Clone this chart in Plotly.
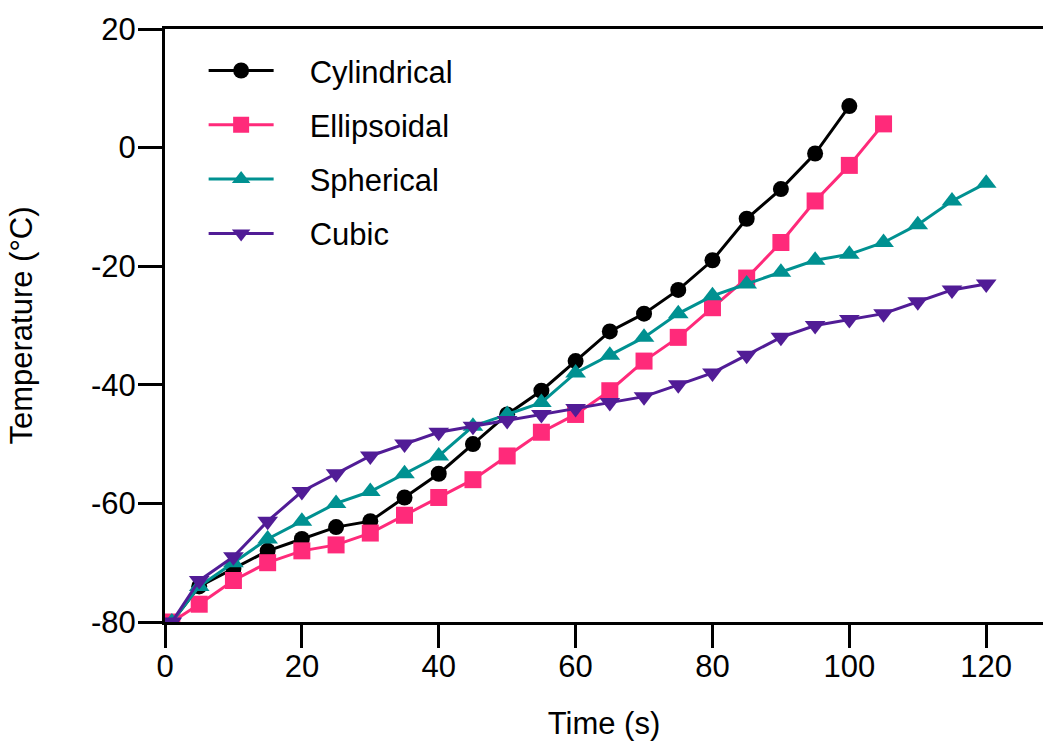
import plotly.graph_objects as go

time_cyl = [1, 5, 10, 15, 20, 25, 30, 35, 40, 45, 50, 55, 60, 65, 70, 75, 80, 85, 90, 95, 100]
temp_cyl = [-80, -74, -71, -68, -66, -64, -63, -59, -55, -50, -45, -41, -36, -31, -28, -24, -19, -12, -7, -1, 7]

time_ell = [1, 5, 10, 15, 20, 25, 30, 35, 40, 45, 50, 55, 60, 65, 70, 75, 80, 85, 90, 95, 100, 105]
temp_ell = [-80, -77, -73, -70, -68, -67, -65, -62, -59, -56, -52, -48, -45, -41, -36, -32, -27, -22, -16, -9, -3, 4]

time_sph = [1, 5, 10, 15, 20, 25, 30, 35, 40, 45, 50, 55, 60, 65, 70, 75, 80, 85, 90, 95, 100, 105, 110, 115, 120]
temp_sph = [-80, -74, -70, -66, -63, -60, -58, -55, -52, -47, -45, -43, -38, -35, -32, -28, -25, -23, -21, -19, -18, -16, -13, -9, -6]

time_cub = [1, 5, 10, 15, 20, 25, 30, 35, 40, 45, 50, 55, 60, 65, 70, 75, 80, 85, 90, 95, 100, 105, 110, 115, 120]
temp_cub = [-80, -73, -69, -63, -58, -55, -52, -50, -48, -47, -46, -45, -44, -43, -42, -40, -38, -35, -32, -30, -29, -28, -26, -24, -23]

x_ticks = [0, 20, 40, 60, 80, 100, 120]
x_tick_labels = ["0", "20", "40", "60", "80", "100", "120"]
y_ticks = [-80, -60, -40, -20, 0, 20]
y_tick_labels = ["-80", "-60", "-40", "-20", "0", "20"]

series = [
    ("Cylindrical", time_cyl, temp_cyl, "#000000", "circle", 16),
    ("Ellipsoidal", time_ell, temp_ell, "#FF2A7A", "square", 17),
    ("Spherical", time_sph, temp_sph, "#009191", "triangle-up", 18),
    ("Cubic", time_cub, temp_cub, "#511C96", "triangle-down", 18),
]

FONT = "Liberation Sans, Arial, sans-serif"
PAD = "\u2002\u2002"

fig = go.Figure()
for name, xs, ys, color, sym, size in series:
    fig.add_trace(go.Scatter(
        x=xs, y=ys, name=PAD + name, mode="lines+markers",
        line=dict(color=color, width=3),
        marker=dict(symbol=sym, size=size, color=color, line=dict(width=0)),
        legendgroup=name,
    ))

fig.update_layout(
    width=1043, height=742,
    margin=dict(l=165, r=0, t=29, b=120),
    plot_bgcolor="white", paper_bgcolor="white",
    font=dict(family=FONT, size=31, color="black"),
    showlegend=True,
    legend=dict(x=0.044, y=0.975, xanchor="left", yanchor="top",
                font=dict(size=31), tracegroupgap=11, itemwidth=65,
                bgcolor="rgba(0,0,0,0)"),
    xaxis=dict(range=[0, 128.3], tickvals=x_ticks, ticktext=x_tick_labels,
               showline=True, linecolor="black", linewidth=3, mirror=True,
               ticks="outside", ticklen=23, tickwidth=3, tickcolor="black",
               ticklabelstandoff=-8,
               showgrid=False, zeroline=False,
               title=dict(text="Time (s)", standoff=30, font=dict(size=31))),
    yaxis=dict(range=[-80, 20], tickvals=y_ticks, ticktext=y_tick_labels,
               showline=True, linecolor="black", linewidth=3,
               ticks="outside", ticklen=24, tickwidth=3, tickcolor="black",
               ticklabelstandoff=-4,
               showgrid=False, zeroline=False,
               title=dict(text="Temperature (°C)", standoff=50, font=dict(size=31))),
)

fig.write_html("out.html", config={"displayModeBar": False},
               post_script="document.body.style.margin='0';document.body.style.overflow='hidden';")
